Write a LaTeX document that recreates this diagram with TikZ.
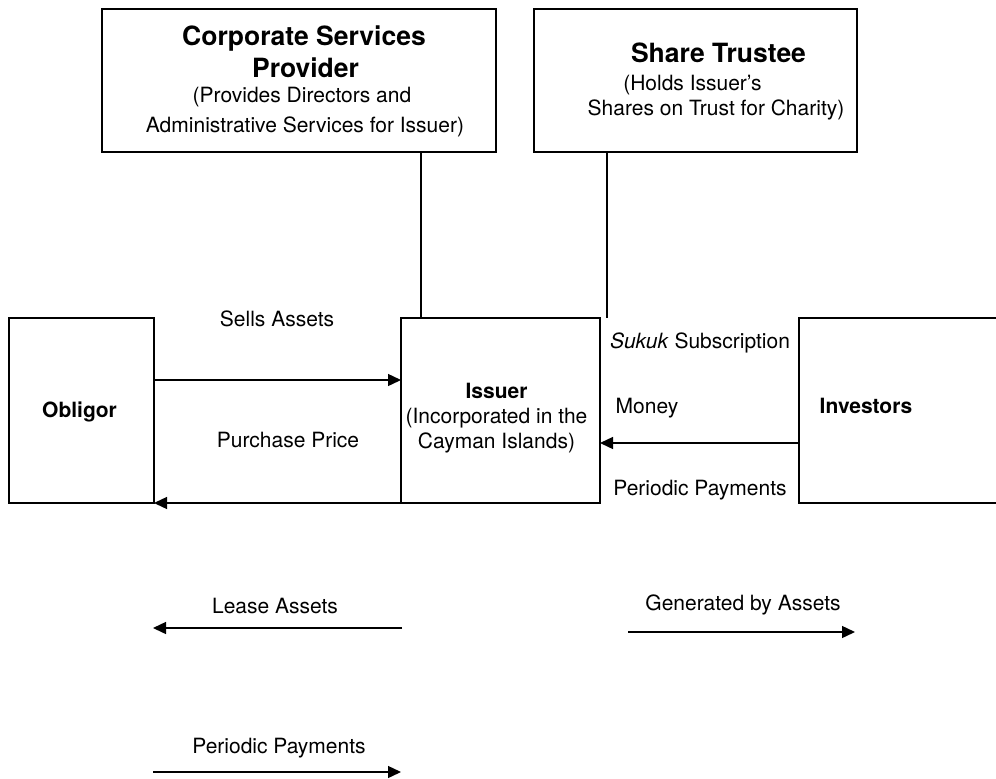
\documentclass[tikz,border=0pt]{standalone}
\usepackage{fontspec}
\setmainfont{TeX Gyre Heros}
\usetikzlibrary{arrows.meta}
\newcommand{\tightlines}{\lineskiplimit-50pt\relax}
\begin{document}
\begin{tikzpicture}[x=1pt,y=-1pt,
  box/.style={draw,line width=1.8pt,inner sep=0pt,outer sep=0pt},
  link/.style={line width=1.8pt},
  flow/.style={line width=1.4pt,-{Triangle[length=13pt,width=12pt]}},
  txt/.style={font={\fontsize{21}{25}\selectfont\tightlines},align=center,inner sep=0pt},
  lbl/.style={font={\fontsize{21}{25}\selectfont},anchor=base,inner sep=0pt},
  ttl/.style={font={\fontsize{26.5}{30}\selectfont\bfseries},anchor=base,inner sep=0pt}]
\useasboundingbox (0,0) rectangle (996,779);
\clip (0,0) rectangle (996,779);

% boxes
\node[box,minimum width=394pt,minimum height=143pt] (csp) at (299,80.5) {};
\node[box,minimum width=323pt,minimum height=143pt] (st) at (695.5,80.5) {};
\node[box,minimum width=145pt,minimum height=185pt] (obl) at (81.5,410.5) {};
\node[box,minimum width=199pt,minimum height=185pt] (iss) at (500.5,410.5) {};
\node[box,minimum width=211pt,minimum height=185pt] (inv) at (904.5,410.5) {};

% box texts
\node[ttl] (cspt1) at (304,45) {Corporate Services};
\node[ttl] (cspt2) at (305.5,77) {Provider};
\node[lbl] (cspl1) at (302,102) {(Provides Directors and};
\node[lbl] (cspl2) at (305,132) {Administrative Services for Issuer)};
\node[ttl] (sttitle) at (718.5,62) {Share Trustee};
\node[lbl] (stl1) at (692.5,90) {(Holds Issuer’s};
\node[lbl] (stl2) at (716,115) {Shares on Trust for Charity)};
\node[lbl,font={\fontsize{21}{25}\selectfont\bfseries}] (obltxt) at (79.5,417) {Obligor};
\node[txt] (isstxt) at (496.5,417.7) {\textbf{Issuer}\\(Incorporated in the\\Cayman Islands)};
\node[lbl,font={\fontsize{21}{25}\selectfont\bfseries}] (invtxt) at (866,413) {Investors};

% vertical links
\coordinate (cspb) at (421,152);
\coordinate (cspi) at (421,318);
\coordinate (stb) at (607,152);
\coordinate (sti) at (607,318);
\draw[link] (cspb) -- (cspi);
\draw[link] (stb) -- (sti);

% arrows between boxes
\draw[flow] (obl.east |- 0,380) -- (iss.west |- 0,380);
\draw[flow] (iss.south west) -- (obl.south east);
\draw[flow] (inv.west |- 0,443) -- (iss.east |- 0,443);

% free arrows
\coordinate (la1) at (402,628);
\coordinate (la2) at (153,628);
\coordinate (ga1) at (628,632);
\coordinate (ga2) at (855,632);
\coordinate (pp1) at (153,772);
\coordinate (pp2) at (401,772);
\draw[flow] (la1) -- (la2);
\draw[flow] (ga1) -- (ga2);
\draw[flow] (pp1) -- (pp2);

% labels
\node[lbl] (sells) at (277,326) {Sells Assets};
\node[lbl] (purch) at (288,447) {Purchase Price};
\node[lbl] (sukuk) at (700,348) {\textit{Sukuk} Subscription};
\node[lbl] (money) at (647,413) {Money};
\node[lbl] (perr) at (700,495) {Periodic Payments};
\node[lbl] (lease) at (275,613) {Lease Assets};
\node[lbl] (gen) at (743,610) {Generated by Assets};
\node[lbl] (perb) at (279,753) {Periodic Payments};
\end{tikzpicture}
\end{document}
